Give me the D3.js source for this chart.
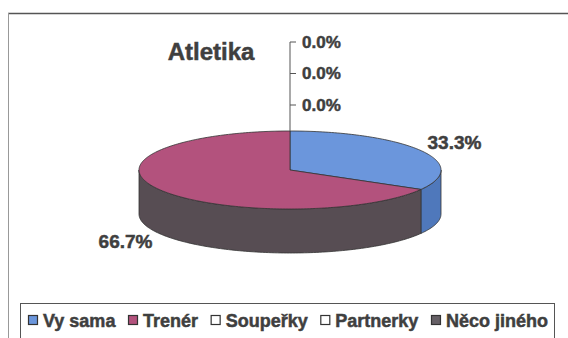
<!DOCTYPE html>
<html>
<head>
<meta charset="utf-8">
<script src="https://cdn.jsdelivr.net/npm/d3@7"></script>
<style>
  html, body { margin: 0; padding: 0; background: #fff; }
  svg text {
    font-family: Arial, "Liberation Sans", sans-serif; font-weight: bold;
    fill: #3f3f3f; stroke: #3f3f3f; stroke-width: 0.5px; paint-order: stroke;
  }
</style>
</head>
<body>
<svg id="chart" width="568" height="338"></svg>
<script>
// Chart data
const title = "Atletika";
const categories = ["Vy sama", "Trenér", "Soupeřky", "Partnerky", "Něco jiného"];
const shares = [33.3, 66.7, 0.0, 0.0, 0.0];
const topColors = ["#6b96dc", "#b3527d", "#ffffff", "#ffffff", "#5a5057"];
const sideColors = ["#4f78bb", "#574d53", "#dddddd", "#dddddd", "#4a4248"];
const legendColors = ["#6b96dc", "#b3527d", "#ffffff", "#ffffff", "#666066"];

const svg = d3.select("#chart");
const W = 568, H = 338;

// Frame of the chart area
svg.append("line").attr("x1", 8).attr("y1", 13.5).attr("x2", W).attr("y2", 13.5)
  .attr("stroke", "#555").attr("stroke-width", 1.5);
svg.append("line").attr("x1", 8.5).attr("y1", 13).attr("x2", 8.5).attr("y2", H)
  .attr("stroke", "#999").attr("stroke-width", 1);

// Title
svg.append("text").attr("x", 211).attr("y", 60).attr("text-anchor", "middle")
  .style("font-size", "24px").text(title);

// 3D pie geometry (tilted ellipse with depth)
const cx = 290, cy = 170, rx = 151, ry = 39, depth = 44;
const pie = d3.pie().sort(null).value(d => d)(shares);
const pt = (a, dy = 0) => [cx + rx * Math.sin(a), cy - ry * Math.cos(a) + dy];
const arcPts = (a0, a1, dy = 0) => {
  const n = Math.max(2, Math.ceil(Math.abs(a1 - a0) / 0.02));
  return d3.range(n + 1).map(i => pt(a0 + (a1 - a0) * i / n, dy));
};
const line = d3.line();

// Side walls: only the front half (angles between PI/2 and 3PI/2) is visible
const gSide = svg.append("g");
pie.forEach((s, i) => {
  const a0 = Math.max(s.startAngle, Math.PI / 2);
  const a1 = Math.min(s.endAngle, 3 * Math.PI / 2);
  if (a1 <= a0) return;
  const pts = arcPts(a0, a1).concat(arcPts(a1, a0, depth));
  gSide.append("path").attr("d", line(pts) + "Z")
    .attr("fill", sideColors[i]).attr("stroke", "#333").attr("stroke-width", 0.8)
    .attr("stroke-linejoin", "round");
});

// Top faces
const gTop = svg.append("g");
pie.forEach((s, i) => {
  if (s.endAngle - s.startAngle <= 0) return;
  const pts = [[cx, cy]].concat(arcPts(s.startAngle, s.endAngle));
  gTop.append("path").attr("d", line(pts) + "Z")
    .attr("fill", topColors[i]).attr("stroke", "#333").attr("stroke-width", 0.8)
    .attr("stroke-linejoin", "round");
});

// Percentage labels for non-empty slices
const fmt = v => d3.format(".1f")(v) + "%";
const lrx = 190, lry = 55;
pie.forEach((s, i) => {
  if (s.value <= 0) return;
  const m = (s.startAngle + s.endAngle) / 2;
  const x = cx + lrx * Math.sin(m);
  let y = cy - lry * Math.cos(m);
  if (Math.cos(m) < 0) y += depth;
  svg.append("text").attr("x", x).attr("y", y).attr("dy", "0.35em")
    .attr("text-anchor", "middle").style("font-size", "19px").text(fmt(s.value));
});

// Empty slices: labels stacked above the pie with a bracket leader
const zero = pie.filter(s => s.value <= 0);
const zy0 = 42, zstep = 31.5, bx = cx;
const leader = svg.append("g").attr("stroke", "#555").attr("stroke-width", 1).attr("fill", "none");
if (zero.length) {
  leader.append("line").attr("x1", bx).attr("y1", zy0).attr("x2", bx).attr("y2", cy - ry);
  zero.forEach((s, k) => {
    const y = zy0 + k * zstep;
    leader.append("line").attr("x1", bx).attr("y1", y).attr("x2", bx + 6).attr("y2", y);
    svg.append("text").attr("x", bx + 12).attr("y", y).attr("dy", "0.35em")
      .style("font-size", "17px").text(fmt(s.value));
  });
}

// Legend
const lg = svg.append("g");
lg.append("rect").attr("x", 20.5).attr("y", 303.5).attr("width", 534).attr("height", 40)
  .attr("fill", "#fff").attr("stroke", "#555").attr("stroke-width", 1);
const sw = 10, gapT = 5, legX0 = 28, legX1 = 548, ly = 321;
const items = categories.map((c, i) => {
  const t = lg.append("text").attr("y", ly).attr("dy", "0.35em").style("font-size", "18px").text(c);
  return { t, w: t.node().getComputedTextLength(), i };
});
const used = d3.sum(items, d => d.w + sw + gapT);
const gap = (legX1 - legX0 - used) / (items.length - 1);
let x = legX0;
items.forEach(d => {
  lg.append("rect").attr("x", x + 0.5).attr("y", ly - 5.5).attr("width", sw - 1).attr("height", sw - 1)
    .attr("fill", legendColors[d.i]).attr("stroke", "#333").attr("stroke-width", 1.2);
  d.t.attr("x", x + sw + gapT);
  x += sw + gapT + d.w + gap;
});
</script>
</body>
</html>
